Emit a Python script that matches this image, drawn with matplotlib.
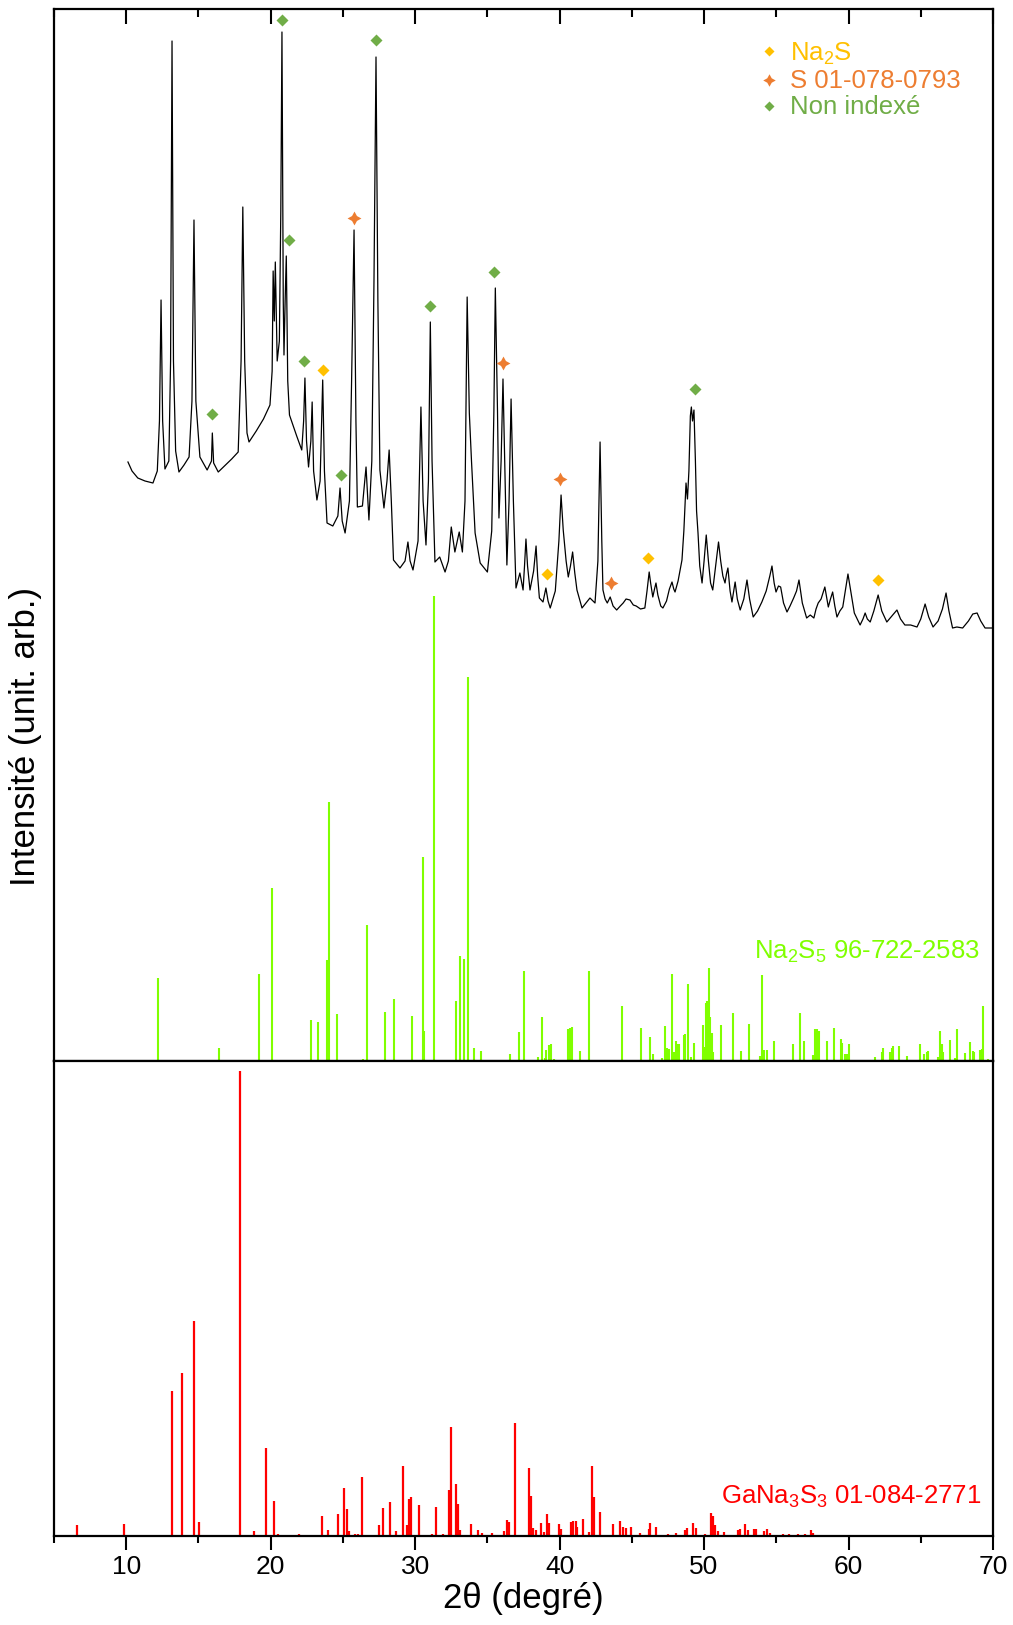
import matplotlib
matplotlib.use("Agg")
import matplotlib.pyplot as plt

plt.rcParams['font.family'] = ['Liberation Sans', 'DejaVu Sans']
plt.rcParams['mathtext.fontset'] = 'custom'
plt.rcParams['mathtext.rm'] = 'Liberation Sans'
plt.rcParams['mathtext.it'] = 'Liberation Sans:italic'
plt.rcParams['mathtext.bf'] = 'Liberation Sans:bold'
plt.rcParams['mathtext.default'] = 'regular'

# ---------------- data ----------------
# measured pattern: (2theta, intensity a.u.) read from the picture
trace_points = [
    (10.12, 599), (10.4, 590), (10.8, 583), (11.3, 580), (11.85, 578), (12.15, 590), (12.3, 640),
    (12.41, 761), (12.52, 640), (12.68, 592), (12.95, 600), (13.07, 700), (13.17, 1020), (13.27, 700),
    (13.42, 610), (13.65, 589), (14.0, 596), (14.35, 604), (14.55, 660), (14.69, 841), (14.82, 660),
    (15.1, 604), (15.6, 591), (15.9, 600), (15.96, 628), (16.05, 598), (16.37, 589), (16.8, 595),
    (17.3, 602), (17.75, 609), (17.95, 700), (18.07, 854), (18.2, 700), (18.36, 628), (18.5, 619),
    (19.0, 630), (19.5, 642), (19.95, 656), (20.1, 690), (20.17, 790), (20.25, 740), (20.32, 799),
    (20.45, 700), (20.6, 720), (20.7, 850), (20.78, 1029), (20.87, 760), (20.92, 706), (21.0, 760),
    (21.08, 805), (21.18, 680), (21.3, 646), (21.8, 625), (22.15, 611), (22.28, 640), (22.37, 683),
    (22.48, 620), (22.62, 594), (22.78, 620), (22.87, 659), (22.97, 590), (23.2, 561), (23.42, 580),
    (23.6, 681), (23.72, 590), (23.9, 538), (24.3, 535), (24.65, 545), (24.8, 573), (24.95, 540),
    (25.15, 528), (25.45, 560), (25.6, 680), (25.77, 831), (25.9, 640), (26.0, 554), (26.35, 555),
    (26.6, 594), (26.8, 541), (27.0, 600), (27.15, 780), (27.29, 1004), (27.42, 760), (27.56, 591),
    (27.84, 553), (28.05, 580), (28.2, 611), (28.35, 560), (28.5, 501), (28.95, 493), (29.3, 500),
    (29.5, 519), (29.65, 500), (29.85, 491), (30.2, 520), (30.4, 654), (30.55, 560), (30.75, 516),
    (30.92, 580), (31.05, 739), (31.17, 600), (31.37, 499), (31.7, 504), (32.07, 489), (32.3, 500),
    (32.5, 534), (32.75, 509), (33.05, 529), (33.27, 509), (33.45, 560), (33.6, 764), (33.75, 648),
    (33.9, 600), (34.15, 528), (34.5, 498), (35.0, 489), (35.3, 530), (35.45, 650), (35.55, 773),
    (35.7, 650), (35.8, 543), (35.95, 600), (36.08, 682), (36.2, 600), (36.35, 496), (36.5, 560),
    (36.64, 662), (36.8, 560), (36.98, 473), (37.25, 488), (37.47, 471), (37.57, 495), (37.67, 522),
    (37.78, 495), (37.95, 471), (38.2, 490), (38.37, 515), (38.48, 485), (38.6, 463), (38.85, 459),
    (39.05, 473), (39.2, 460), (39.35, 453), (39.7, 470), (39.95, 520), (40.1, 566), (40.25, 531),
    (40.45, 500), (40.6, 484), (40.75, 495), (40.9, 509), (41.05, 488), (41.2, 471), (41.55, 453),
    (42.1, 463), (42.45, 458), (42.65, 500), (42.8, 619), (42.92, 520), (43.0, 471), (43.15, 462),
    (43.3, 458), (43.5, 464), (43.7, 455), (43.95, 451), (44.2, 455), (44.4, 458), (44.6, 462),
    (44.87, 461), (45.1, 456), (45.3, 455), (45.6, 452), (45.9, 453), (46.05, 470), (46.2, 489),
    (46.3, 478), (46.45, 464), (46.57, 472), (46.67, 478), (46.8, 466), (47.0, 455), (47.15, 453),
    (47.4, 460), (47.6, 472), (47.78, 479), (47.9, 472), (47.99, 469), (48.2, 480), (48.35, 492),
    (48.47, 501), (48.6, 530), (48.75, 578), (48.85, 562), (48.95, 590), (49.05, 645), (49.12, 654),
    (49.2, 640), (49.3, 651), (49.4, 600), (49.48, 550), (49.58, 528), (49.7, 495), (49.86, 478),
    (50.0, 500), (50.15, 526), (50.3, 500), (50.45, 478), (50.6, 471), (50.8, 495), (51.0, 519),
    (51.15, 500), (51.3, 485), (51.45, 478), (51.55, 487), (51.65, 493), (51.8, 470), (51.93, 459),
    (52.05, 470), (52.15, 479), (52.3, 462), (52.5, 451), (52.75, 462), (52.97, 481), (53.15, 462),
    (53.4, 444), (53.7, 450), (54.0, 459), (54.3, 470), (54.55, 485), (54.7, 495), (54.85, 478),
    (54.98, 469), (55.15, 475), (55.3, 474), (55.5, 458), (55.74, 449), (55.95, 455), (56.2, 463),
    (56.4, 470), (56.57, 481), (56.8, 458), (57.1, 443), (57.35, 446), (57.6, 443), (57.75, 452),
    (57.9, 458), (58.1, 462), (58.36, 474), (58.5, 462), (58.6, 454), (58.75, 462), (58.9, 469),
    (59.05, 455), (59.2, 444), (59.4, 450), (59.6, 454), (59.8, 472), (59.96, 487), (60.15, 470),
    (60.4, 448), (60.8, 436), (61.0, 442), (61.15, 448), (61.3, 442), (61.5, 439), (61.75, 450),
    (62.05, 466), (62.3, 450), (62.65, 439), (63.0, 445), (63.35, 451), (63.6, 442), (63.9, 436),
    (64.3, 436), (64.74, 434), (65.0, 442), (65.3, 457), (65.55, 444), (65.85, 434), (66.2, 440),
    (66.5, 452), (66.75, 468), (66.95, 450), (67.2, 433), (67.5, 434), (67.9, 433), (68.3, 440),
    (68.6, 447), (68.9, 448), (69.15, 440), (69.45, 433), (69.95, 433)]
trace_x = [p[0] for p in trace_points]
trace_y = [p[1] for p in trace_points]

# phase markers on the measured pattern
na2s_x = [23.6, 39.1, 46.15, 62.05]
na2s_y = [691, 487, 503, 481]
s_x = [25.75, 36.1, 40.05, 43.55]
s_y = [843, 698, 582, 478]
nonidx_x = [20.78, 27.28, 21.27, 22.33, 15.97, 24.85, 31.05, 35.45, 49.35]
nonidx_y = [1041, 1021, 821, 700, 647, 586, 755, 789, 672]

# reference Na2S5 96-722-2583 (2theta, relative intensity)
na2s5_x = [12.22, 16.42, 19.17, 20.09, 22.77, 23.3, 23.9, 23.97, 24.06, 24.59, 26.37, 26.67, 27.89,
           28.56, 29.8, 30.54, 30.63, 31.33, 32.85, 33.1, 33.38, 33.63, 34.1, 34.56, 35.16, 36.54,
           37.21, 37.51, 38.53, 38.8, 38.99, 39.06, 39.29, 39.38, 39.61, 40.56, 40.72, 40.84, 41.41,
           42.04, 44.32, 45.61, 46.24, 46.49, 47.07, 47.3, 47.41, 47.57, 47.78, 47.92, 48.06, 48.15,
           48.27, 48.59, 48.7, 48.91, 49.07, 49.3, 49.9, 49.99, 50.11, 50.2, 50.32, 50.41, 50.53,
           50.64, 51.15, 51.98, 52.56, 53.09, 53.87, 54.03, 54.17, 54.33, 54.84, 55.65, 56.13, 56.64,
           56.94, 57.56, 57.68, 57.8, 57.96, 58.49, 59.0, 59.46, 59.57, 59.76, 59.87, 60.03, 61.37,
           61.83, 62.29, 62.41, 62.87, 62.99, 63.1, 63.52, 64.02, 64.95, 65.25, 65.41, 65.52, 66.22,
           66.33, 66.45, 66.56, 67.02, 67.37, 67.49, 68.06, 68.41, 68.6, 68.69, 69.1, 69.22, 69.33,
           69.68]
na2s5_i = [17.8, 2.7, 18.7, 37.1, 8.8, 8.3, 21.7, 21.7, 55.6, 10.1, 0.5, 29.2, 10.5,
           13.3, 9.7, 43.9, 6.5, 100, 12.8, 22.6, 21.9, 82.5, 2.9, 2.2, 0.3, 1.4,
           6.2, 19.4, 0.9, 9.4, 0.6, 2.4, 3.4, 3.6, 0.4, 6.8, 7.2, 7.4, 2.2,
           19.4, 11.8, 7.2, 5.2, 1.6, 0.7, 7.6, 2.7, 2.5, 18.7, 2.0, 4.3, 3.7,
           3.6, 5.6, 5.9, 16.6, 0.9, 3.8, 7.7, 3.1, 12.5, 12.8, 19.9, 9.4, 6.0,
           2.0, 7.7, 10.4, 2.2, 8.0, 1.1, 18.4, 2.4, 2.4, 4.2, 0.3, 3.6, 10.4,
           4.4, 1.3, 6.8, 6.8, 6.5, 4.4, 7.0, 4.7, 3.9, 1.5, 1.6, 3.7, 0.3,
           0.9, 2.0, 2.7, 2.0, 2.7, 3.3, 3.3, 1.1, 3.6, 1.6, 2.0, 2.2, 0.9,
           6.5, 3.6, 2.0, 4.5, 0.6, 6.8, 1.8, 4.0, 2.2, 2.0, 2.4, 2.5, 11.8,
           0.4]

# reference GaNa3S3 01-084-2771 (2theta, relative intensity)
gana3s3_x = [6.57, 9.87, 13.15, 13.84, 14.67, 15.06, 17.88, 18.84, 19.7, 20.23, 20.53, 21.96, 23.53,
             23.99, 24.68, 25.05, 25.3, 25.44, 25.84, 26.05, 26.34, 27.52, 27.8, 28.26, 28.68, 29.18,
             29.46, 29.6, 29.69, 30.27, 31.14, 31.42, 31.95, 32.34, 32.47, 32.85, 32.97, 33.1, 33.86,
             34.34, 34.65, 35.3, 36.13, 36.37, 36.48, 36.94, 37.87, 38.03, 38.16, 38.34, 38.69, 38.92,
             39.13, 39.26, 39.95, 40.08, 40.8, 40.93, 41.16, 41.23, 41.62, 42.0, 42.26, 42.39, 42.82,
             43.67, 44.18, 44.39, 44.57, 44.95, 45.59, 46.16, 46.28, 46.67, 47.51, 48.08, 48.67, 48.85,
             49.26, 49.44, 50.08, 50.46, 50.59, 50.77, 50.98, 51.41, 52.33, 52.51, 52.85, 53.03, 53.46,
             53.62, 54.18, 54.39, 54.57, 55.46, 55.85, 56.49, 57.0, 57.39, 57.57, 58.49]
gana3s3_i = [2.4, 2.5, 31.1, 35.1, 46.3, 3.1, 100, 1.1, 18.9, 7.6, 0.4, 0.4, 4.3,
             1.2, 4.7, 10.3, 5.8, 1.1, 0.4, 0.4, 12.6, 2.4, 6.1, 7.3, 1.1, 15.1,
             2.3, 8.0, 8.4, 6.7, 0.4, 6.3, 0.4, 9.9, 23.4, 11.1, 6.8, 1.3, 2.6,
             1.2, 0.6, 0.6, 1.0, 3.4, 3.0, 24.3, 14.7, 8.6, 1.8, 1.2, 2.7, 0.9,
             4.7, 2.9, 2.5, 1.4, 3.1, 3.2, 3.2, 2.0, 3.7, 0.9, 15.1, 8.4, 5.2,
             2.5, 3.2, 2.0, 1.8, 2.0, 0.7, 1.4, 2.7, 2.0, 0.5, 0.7, 1.2, 1.8,
             2.7, 1.8, 0.4, 4.9, 4.3, 2.3, 1.1, 0.9, 1.2, 1.4, 2.5, 1.2, 1.6,
             1.4, 1.1, 1.6, 0.7, 0.4, 0.4, 0.4, 0.4, 1.3, 0.7, 0.2]

xticks_major = [10, 20, 30, 40, 50, 60, 70]
xticks_minor = [5, 15, 25, 35, 45, 55, 65]

# ---------------- styling ----------------
C_NA2S = '#FFC000'
C_S = '#ED7D31'
C_NONIDX = '#70AD47'
C_NA2S5 = '#80FF00'
C_GANA = '#FF0000'
STICK_SCALE = 4.65   # top-panel units per % relative intensity

fig = plt.figure(figsize=(10.13, 16.25), dpi=100)
L, W = 54 / 1013, 939 / 1013
ax1 = fig.add_axes([L, 1 - 1061 / 1625, W, 1052 / 1625])
ax2 = fig.add_axes([L, 1 - 1536 / 1625, W, 475 / 1625])

for ax in (ax1, ax2):
    ax.set_xlim(5, 70)
    for sp in ax.spines.values():
        sp.set_linewidth(1.6)
    ax.set_yticks([])

# top panel
ax1.set_ylim(0, 1052)
ax1.vlines(na2s5_x, 0, [v * STICK_SCALE for v in na2s5_i], color=C_NA2S5, lw=1.5)
ax1.plot(trace_x, trace_y, color='black', lw=0.9)
ax1.plot(na2s_x, na2s_y, ls='none', marker='D', ms=6, color=C_NA2S, mec='none')
ax1.plot(s_x, s_y, ls='none', marker=(4, 1, 0), ms=10, color=C_S, mec='none')
ax1.plot(nonidx_x, nonidx_y, ls='none', marker='D', ms=6, color=C_NONIDX, mec='none')

ax1.xaxis.set_ticks_position('top')
ax1.set_xticks(xticks_major)
ax1.set_xticks(xticks_minor, minor=True)
ax1.tick_params(axis='x', which='major', direction='in', length=11, width=1.5, labeltop=False, labelbottom=False)
ax1.tick_params(axis='x', which='minor', direction='in', length=6, width=1.5)

# legend (manual)
leg = [('D', 5.2, C_NA2S, 'Na$_2$S'),
       ((4, 1, 0), 9, C_S, 'S 01-078-0793'),
       ('D', 5.2, C_NONIDX, 'Non indexé')]
rows_y = [0.9605, 0.9325, 0.9075]
text_dy = [-0.003, -0.001, -0.001]
for (m, ms, c, lab), yy, dy in zip(leg, rows_y, text_dy):
    ax1.plot([0.7614], [yy], transform=ax1.transAxes, marker=m, ms=ms, color=c, mec='none', ls='none')
    ax1.text(0.784, yy + dy, lab, transform=ax1.transAxes, color=c, fontsize=18.5, ha='left', va='center')

ax1.text(0.986, 0.1036, 'Na$_2$S$_5$ 96-722-2583', transform=ax1.transAxes, color=C_NA2S5,
         fontsize=18.5, ha='right', va='center')

# bottom panel
ax2.set_ylim(0, 100 * 475 / 465)
ax2.vlines(gana3s3_x, 0, gana3s3_i, color=C_GANA, lw=1.6)
ax2.set_xticks(xticks_major)
ax2.set_xticks(xticks_minor, minor=True)
ax2.tick_params(axis='x', which='major', direction='out', length=10, width=1.5, labelsize=19, pad=4,
                top=False)
ax2.tick_params(axis='x', which='minor', direction='out', length=5, width=1.5, top=False)
ax2.text(0.988, 0.082, 'GaNa$_3$S$_3$ 01-084-2771', transform=ax2.transAxes, color=C_GANA,
         fontsize=18.5, ha='right', va='center')
ax2.set_xlabel('2θ (degré)', fontsize=25, labelpad=2)

fig.text(26 / 1013, 1 - 736 / 1625, 'Intensité (unit. arb.)', rotation=90, fontsize=25,
         ha='center', va='center')

fig.savefig('out.png', dpi=100)
